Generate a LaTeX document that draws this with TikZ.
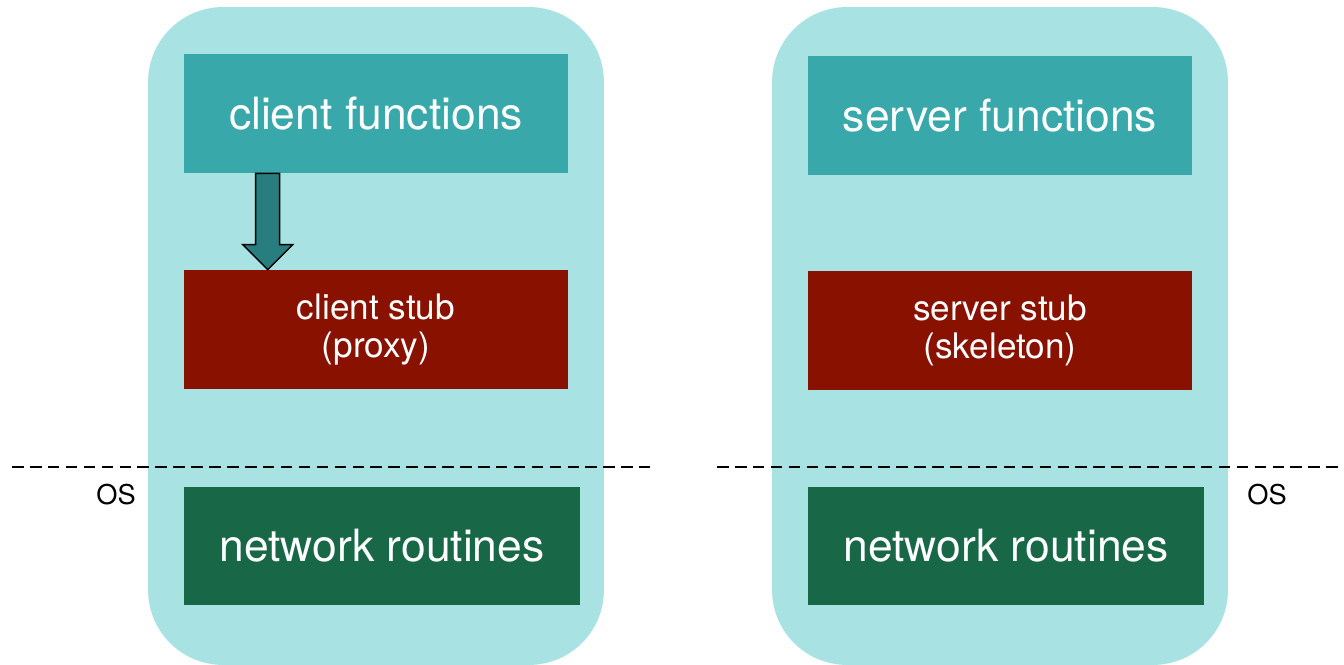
\documentclass[tikz,border=0pt]{standalone}
\usepackage{fontspec}
\setmainfont{TeX Gyre Heros}
\usetikzlibrary{calc}

\definecolor{pale}{HTML}{A8E2E2}
\definecolor{teal1}{HTML}{38A8AA}
\definecolor{stub}{HTML}{881100}
\definecolor{net}{HTML}{186848}
\definecolor{arr}{HTML}{287E7E}

\begin{document}
\begin{tikzpicture}[x=0.02cm,y=-0.02cm,
    box/.style={inner sep=0pt,text=white,minimum width=7.68cm,minimum height=2.38cm},
    side/.style={fill=pale,inner sep=0pt,minimum width=9.12cm,minimum height=13.16cm,rounded corners=1.5cm},
    big/.style={font=\fontsize{25.3}{30}\selectfont},
    small/.style={font=\fontsize{20}{22}\selectfont,align=center},
    os/.style={line width=1.5pt,dash pattern=on 6.6pt off 3.6pt}]
  \useasboundingbox (0,0) rectangle (1344,665);
  \node[side] (c) at (376,336) {};
  \node[side] (s) at (1000,336) {};

  \node[box,big,fill=teal1] (c1) at (376,113.5) {client functions};
  \node[box,small,fill=stub] (c2) at (376,329.5) {client stub\\(proxy)};
  \node[box,big,fill=net,minimum width=7.92cm,minimum height=2.36cm] (c3) at (382,546) {network routines};

  \node[box,big,fill=teal1] (s1) at (1000,115.5) {server functions};
  \node[box,small,fill=stub] (s2) at (1000,330.5) {server stub\\(skeleton)};
  \node[box,big,fill=net,minimum width=7.92cm,minimum height=2.36cm] (s3) at (1006,546) {network routines};

  \coordinate (top) at ($(c1.south west)+(84,0)$);
  \coordinate (tip) at ($(c2.north west)+(84,0)$);
  \draw[fill=arr,line width=0.8pt,line join=miter]
    ($(top)+(-12,0)$) -- ($(tip)+(-12,-25)$) -- ($(tip)+(-25,-25)$) -- (tip)
    -- ($(tip)+(25,-25)$) -- ($(tip)+(12,-25)$) -- ($(top)+(12,0)$) -- cycle;

  \coordinate (l1) at (12,467);
  \coordinate (l2) at (650,467);
  \coordinate (r1) at (717,467);
  \coordinate (r2) at (1344,467);
  \draw[os] (l1) -- (l2);
  \draw[os] (r1) -- (r2);
  \node[font=\fontsize{15.5}{18}\selectfont] (os1) at (116,495) {OS};
  \node[font=\fontsize{15.5}{18}\selectfont] (os2) at (1267,495) {OS};
\end{tikzpicture}
\end{document}
